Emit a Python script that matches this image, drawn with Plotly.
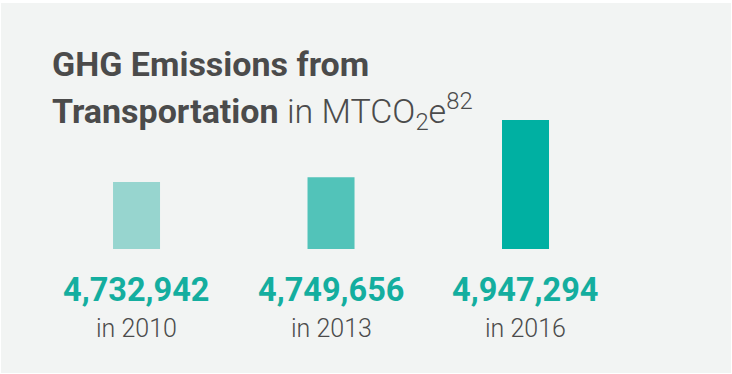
import plotly.graph_objects as go

# Data
years = [2010, 2013, 2016]
emissions = [4732942, 4749656, 4947294]
year_labels = ["in 2010", "in 2013", "in 2016"]
bar_colors = ["#97d5cf", "#52c3b9", "#00b0a2"]

axis_base = 4501300
axis_top = 5362000

W, H = 732, 374
TEXT_GREY = "#4b4b4b"
NUM_TEAL = "#14ae9f"
FONT = "Roboto, Lato, sans-serif"

fig = go.Figure()
fig.add_trace(go.Bar(
    x=years,
    y=[v - axis_base for v in emissions],
    base=axis_base,
    marker=dict(color=bar_colors, line=dict(width=0)),
    width=0.725,
    hoverinfo="skip",
))

annotations = [
    dict(text="<b>GHG Emissions from</b>", x=50 / W, y=1 - 42 / H,
         xref="paper", yref="paper", xanchor="left", yanchor="top",
         showarrow=False, font=dict(family=FONT, size=34, color=TEXT_GREY)),
    dict(text="<b>Transportation</b> in MTCO<sub>2</sub>e<sup>82</sup>",
         x=50 / W, y=1 - 85 / H,
         xref="paper", yref="paper", xanchor="left", yanchor="top",
         showarrow=False,
         font=dict(family=FONT, size=34, color=TEXT_GREY, weight=300)),
]
for yr, v, lab in zip(years, emissions, year_labels):
    annotations.append(dict(
        text=f"<b>{v:,}</b>", x=yr, y=1 - 269 / H, xref="x", yref="paper",
        xanchor="center", yanchor="top", showarrow=False,
        font=dict(family=FONT, size=32.5, color=NUM_TEAL)))
    annotations.append(dict(
        text=lab, x=yr, y=1 - 312 / H, xref="x", yref="paper",
        xanchor="center", yanchor="top", showarrow=False,
        font=dict(family=FONT, size=25, color=TEXT_GREY, weight=300)))

fig.update_layout(
    width=W, height=H,
    margin=dict(l=0, r=0, t=0, b=0),
    paper_bgcolor="white",
    plot_bgcolor="rgba(0,0,0,0)",
    showlegend=False,
    xaxis=dict(range=[2007.894, 2019.185], visible=False, fixedrange=True),
    yaxis=dict(range=[axis_base, axis_top], domain=[125 / H, 1],
               visible=False, fixedrange=True),
    annotations=annotations,
    shapes=[dict(type="rect", xref="paper", yref="paper", layer="below",
                 x0=1 / W, x1=731 / W, y0=1 - 373 / H, y1=1 - 3 / H,
                 fillcolor="#f2f4f3", line=dict(width=0))],
)

fig.write_html("out.html", config={"displayModeBar": False})
